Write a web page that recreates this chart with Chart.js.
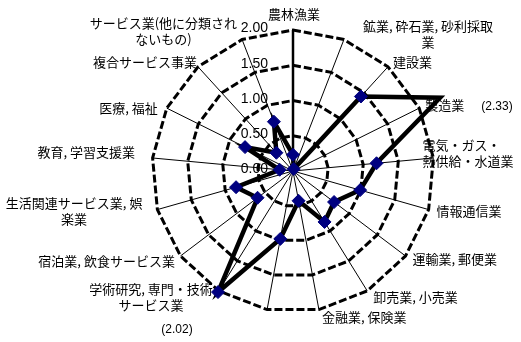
<!DOCTYPE html>
<html>
<head>
<meta charset="utf-8">
<script src="https://cdn.jsdelivr.net/npm/chart.js@4.4.1/dist/chart.umd.min.js"></script>
<style>
  html, body { margin: 0; padding: 0; background: #fff; }
  canvas { display: block; }
</style>
</head>
<body>
<canvas id="myChart" width="521" height="342"></canvas>
<script>
// industries, clockwise from the top
const industries = [
  "農林漁業",
  ["鉱業, 砕石業, 砂利採取", "業"],
  "建設業",
  "製造業",
  ["電気・ガス・", "熱供給・水道業"],
  "情報通信業",
  "運輸業, 郵便業",
  "卸売業, 小売業",
  "金融業, 保険業",
  "",
  ["学術研究, 専門・技術", "サービス業"],
  "宿泊業, 飲食サービス業",
  ["生活関連サービス業, 娯", "楽業"],
  "教育, 学習支援業",
  "医療, 福祉",
  "複合サービス事業",
  ["サービス業(他に分類され", "ないもの)"],
];

const ratios = [0.23, 0.03, 1.43, 2.33, 1.19, 0.99, 0.73, 0.85, 0.43, 0.98, 2.02, 0.63, 0.84, 0.19, 0.76, 0.35, 0.75];

const tickValues = [0, 0.5, 1, 1.5, 2];

// label placement: [gap from spoke end, vertical shift, line align]
const labelNudge = [
  [1, -15.5], [19, -5.6], [5, -5], [6, -3], [-11, -5, "left"], [8, 1.5],
  [7, 3], [6, 6], [3, 7], [0, 0], [6, 6.5], [5.6, 5], [15, 1],
  [17.6, -6], [9, 0], [1, -5], [5, -8],
];

// values past the top of the scale get a note in brackets
const noteOffsets = { 3: [57, 9], 10: [-41, 38] };

const labelFont = '13px "Noto Sans CJK JP", "Noto Sans", sans-serif';
const numberFont = '"Liberation Sans", Arial, sans-serif';

const textLayer = {
  id: "textLayer",
  beforeDraw(chart) {
    const ctx = chart.ctx;
    const r = chart.scales.r;
    ctx.save();
    ctx.fillStyle = "#fff";
    ctx.fillRect(0, 0, chart.width, chart.height);
    ctx.fillStyle = "#000";

    // value axis numbers, left of the top spoke
    ctx.font = "14px " + numberFont;
    ctx.textAlign = "right";
    ctx.textBaseline = "middle";
    tickValues.forEach((v) => {
      const d = r.getDistanceFromCenterForValue(v);
      ctx.fillText(v.toFixed(2), r.xCenter - 25, r.yCenter - d - 1.5);
    });

    // category names
    ctx.font = labelFont;
    const lineH = 16;
    industries.forEach((label, i) => {
      const lines = Array.isArray(label) ? label : [label];
      if (!lines[0]) return;
      const end = r.getPointPosition(i, r.drawingArea);
      const [gap, dy, align] = labelNudge[i];
      const w = Math.max(...lines.map((l) => ctx.measureText(l).width));
      const angle = (360 / industries.length) * i;
      let left;
      if (angle === 0 || angle === 180) left = end.x + gap - w / 2;
      else if (angle < 180) left = end.x + gap;
      else left = end.x - gap - w;
      const top = end.y + dy - (lines.length * lineH) / 2;
      lines.forEach((l, k) => {
        const y = top + lineH * (k + 0.5);
        if (align === "left") {
          ctx.textAlign = "left";
          ctx.fillText(l, left, y);
        } else {
          ctx.textAlign = "center";
          ctx.fillText(l, left + w / 2, y);
        }
      });
    });

    // bracketed values
    ctx.font = "12px " + numberFont;
    ctx.textAlign = "center";
    Object.keys(noteOffsets).forEach((key) => {
      const i = Number(key);
      const p = r.getPointPosition(i, r.getDistanceFromCenterForValue(ratios[i]));
      const [ox, oy] = noteOffsets[i];
      ctx.fillText("(" + ratios[i].toFixed(2) + ")", p.x + ox, p.y + oy);
    });
    ctx.restore();
  },
};

const data = {
  labels: industries,
  datasets: [
    {
      data: ratios,
      borderColor: "#000",
      borderWidth: 4.5,
      fill: false,
      pointStyle: "rectRot",
      pointRadius: ratios.map((v, i) => (i === 3 ? 0 : 6.5)),
      pointHoverRadius: 6.5,
      pointBackgroundColor: "#000080",
      pointBorderColor: "#000080",
      pointBorderWidth: 1,
    },
  ],
};

const config = {
  type: "radar",
  data: data,
  options: {
    responsive: false,
    devicePixelRatio: 1,
    animation: false,
    layout: { padding: { left: 65, right: 0, top: 30, bottom: 30 } },
    plugins: { legend: { display: false }, tooltip: { enabled: false } },
    elements: { line: { tension: 0 } },
    scales: {
      r: {
        min: 0,
        max: 2,
        ticks: { display: false, stepSize: 0.5 },
        grid: { color: "#000", lineWidth: 3 },
        border: { dash: [8, 3] },
        angleLines: {
          color: "#000",
          lineWidth: (ctx) => (ctx.index === 0 ? 2.5 : 1),
        },
        pointLabels: { display: false },
      },
    },
  },
  plugins: [textLayer],
};

const myChart = new Chart(document.getElementById("myChart"), config);
</script>
</body>
</html>
